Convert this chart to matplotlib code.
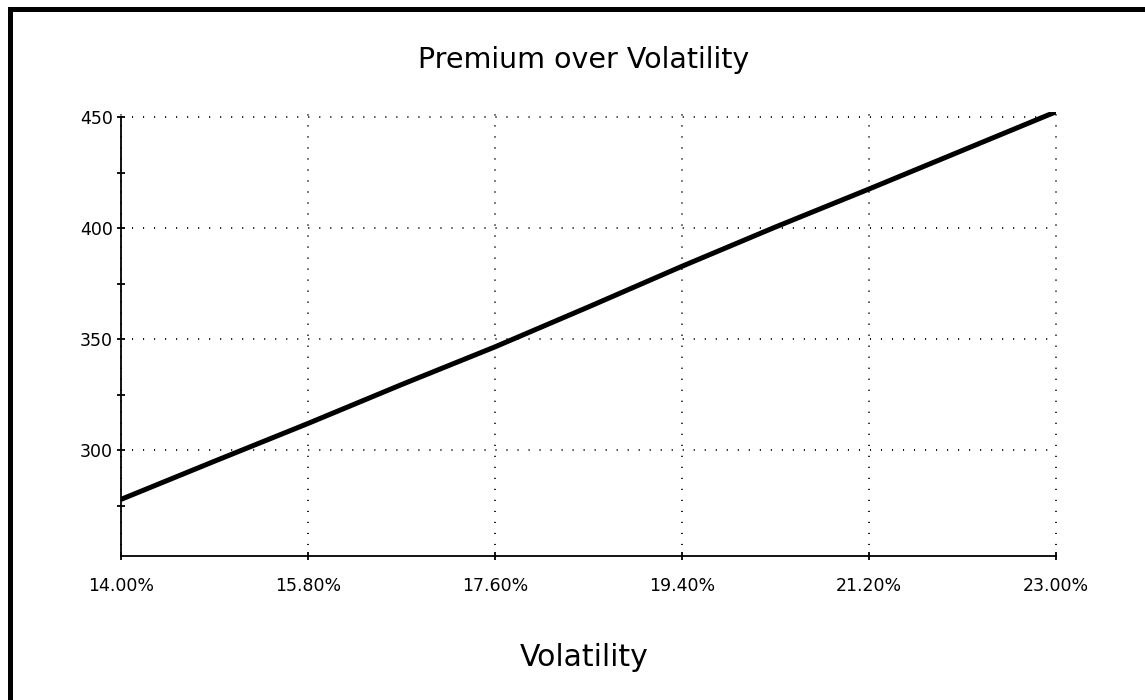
import numpy as np
import matplotlib
matplotlib.use("Agg")
import matplotlib.pyplot as plt
from matplotlib.patches import Rectangle
from matplotlib.ticker import FixedLocator, FuncFormatter

# data
volatility = [14.0, 14.9, 15.8, 16.7, 17.6, 18.5, 19.4, 20.3, 21.2, 22.1, 23.0]
premium = [277.8, 295.0, 312.0, 329.5, 346.5, 364.5, 382.8, 400.5, 417.6, 435.0, 452.4]
xticks = [14.0, 15.8, 17.6, 19.4, 21.2, 23.0]
yticks = [300, 350, 400, 450]
yminor = [275, 325, 375, 425]

plt.rcParams['font.family'] = ['DejaVu Sans']

W, H = 1145, 700
fig = plt.figure(figsize=(W / 100, H / 100), dpi=100)
fig.patch.set_facecolor('white')

# window frame: thick black edge on left and top
fig.add_artist(Rectangle((8 / W, 0), 5 / W, 1 - 7 / H, transform=fig.transFigure,
                         color='black', lw=0))
fig.add_artist(Rectangle((8 / W, 1 - 12 / H), 1, 5 / H, transform=fig.transFigure,
                         color='black', lw=0))

ax = fig.add_axes([121 / W, 1 - 556 / H, (1056 - 121) / W, (556 - 112) / H])
ax.plot(volatility, premium, color='black', lw=3.6, solid_capstyle='butt', zorder=3)

ax.set_xlim(14.0, 23.0)
ax.set_ylim(252.3, 452.3)
ax.xaxis.set_major_locator(FixedLocator(xticks))
ax.yaxis.set_major_locator(FixedLocator(yticks))
ax.yaxis.set_minor_locator(FixedLocator(yminor))
ax.xaxis.set_major_formatter(FuncFormatter(lambda v, p: f"{v:.2f}%"))

ax.grid(True, which='major', color='black', lw=1.3, linestyle=(0, (0.6, 5.5)))
for gl in ax.get_xgridlines() + ax.get_ygridlines():
    gl.set_clip_on(False)
for s in ['top', 'right']:
    ax.spines[s].set_visible(False)
for s in ['left', 'bottom']:
    ax.spines[s].set_linewidth(1.3)
ax.spines['left'].set_bounds(252.3, 450)

ax.tick_params(axis='both', which='both', direction='inout', length=6, width=1.3,
               labelsize=12.5)
ax.tick_params(axis='x', pad=12)
ax.tick_params(axis='y', pad=3)

fig.text(584 / W, 1 - 60 / H, "Premium over Volatility", ha='center', va='center',
         fontsize=20.5)
fig.text(584 / W, 1 - 657 / H, "Volatility", ha='center', va='center', fontsize=21.5)

fig.savefig("out.png", dpi=100, facecolor='white')
